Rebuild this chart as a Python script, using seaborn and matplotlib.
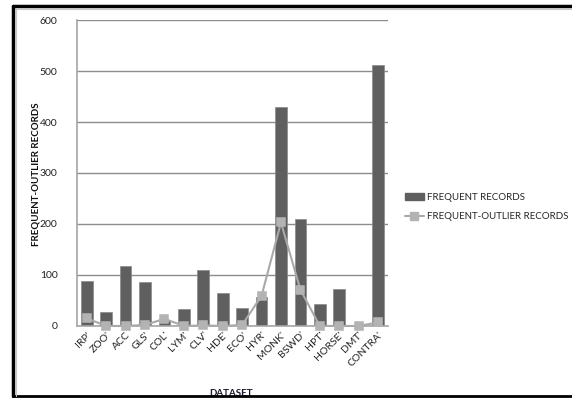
import matplotlib
matplotlib.use("Agg")
import matplotlib.pyplot as plt
from matplotlib.lines import Line2D
from matplotlib.patches import Patch
import seaborn as sns
import pandas as pd

datasets = ["IRP'", "ZOO'", "ACC", "GLS'", "COL'", "LYM'", "CLV'", "HDE'",
            "ECO'", "HYR'", "MONK'", "BSWD'", "HPT'", "HORSE'", "DMT'", "CONTRA'"]
frequent = [88, 27, 117, 86, 12, 33, 110, 65, 36, 57, 430, 209, 44, 72, 0, 512]
frequent_outlier = [15, 0, 0, 2, 14, 0, 1, 0, 2, 59, 203, 71, 0, 0, 0, 7]

bar_color = "#5f5f5f"
line_color = "#a9a9a9"
marker_color = "#b3b3b3"

sns.set_theme(style="white")
plt.rcParams["font.family"] = ["Lato", "DejaVu Sans"]

df = pd.DataFrame({"dataset": datasets, "frequent": frequent,
                   "outlier": frequent_outlier})

fig = plt.figure(figsize=(5.72, 3.98), dpi=100)
ax = fig.add_axes([0.1346, 0.181, 0.5434, 0.7687])

sns.barplot(data=df, x="dataset", y="frequent", color=bar_color,
            saturation=1, width=0.6, edgecolor="#8a8a8a", linewidth=0.5, ax=ax,
            zorder=2)
sns.pointplot(data=df, x="dataset", y="outlier", color=line_color,
              markers="s", linestyles="-", markersize=5.5, linewidth=1.5, ax=ax)
for ln in ax.lines:
    ln.set_markerfacecolor(marker_color)
    ln.set_markeredgecolor(marker_color)
    ln.set_zorder(4)
    ln.set_clip_on(False)

ax.set_xlim(-0.5, len(datasets) - 0.5)
ax.set_ylim(0, 600)
ax.set_yticks(range(0, 601, 100))
ax.yaxis.grid(True, color="#8c8c8c", linewidth=1)
ax.set_axisbelow(True)
for side in ["top", "right"]:
    ax.spines[side].set_visible(False)
for side in ["left", "bottom"]:
    ax.spines[side].set_color("#a6a6a6")
    ax.spines[side].set_linewidth(1.2)
ax.tick_params(axis="both", length=0, labelsize=7.5, colors="#222222", pad=3)
ax.tick_params(axis="y", pad=14)
ax.set_xticks(range(len(datasets)))
ax.set_xticklabels(datasets, rotation=45, ha="right", rotation_mode="anchor")

ax.set_xlabel("DATASET", fontsize=7, fontweight="bold", color="#1a1a2e")
ax.xaxis.set_label_coords(0.495, -0.206)
ax.set_ylabel("FREQUENT-OUTLIER RECORDS", fontsize=7, fontweight="bold",
              color="#111111")
ax.yaxis.set_label_coords(-0.132, 0.497)
ax.yaxis.label.set_va("center")

handles = [Patch(facecolor=bar_color, edgecolor=bar_color),
           Line2D([0], [0], color=line_color, lw=1.5, marker="s",
                  markersize=5.5, markerfacecolor=marker_color,
                  markeredgecolor=marker_color)]
fig.legend(handles, ["FREQUENT RECORDS", "FREQUENT-OUTLIER RECORDS"],
           loc="center left", bbox_to_anchor=(0.693, 0.48), frameon=False,
           fontsize=7, handlelength=1.9, handletextpad=0.3, labelspacing=1.1)

# outer frame of the figure
fig.add_artist(Line2D([0.0225, 0.0225], [0.004, 0.985], color="black", lw=2.5,
                      transform=fig.transFigure))
fig.add_artist(Line2D([0.0225, 1.0], [0.985, 0.985], color="black", lw=2.5,
                      transform=fig.transFigure))
fig.add_artist(Line2D([0.0225, 1.0], [0.004, 0.004], color="black", lw=2,
                      transform=fig.transFigure))
fig.add_artist(Line2D([0.0275, 0.0275], [0.006, 0.978], color="#c8c8c8", lw=0.8,
                      transform=fig.transFigure))
fig.add_artist(Line2D([0.027, 1.0], [0.978, 0.978], color="#c8c8c8", lw=0.8,
                      transform=fig.transFigure))

fig.savefig("out.png", dpi=100)
